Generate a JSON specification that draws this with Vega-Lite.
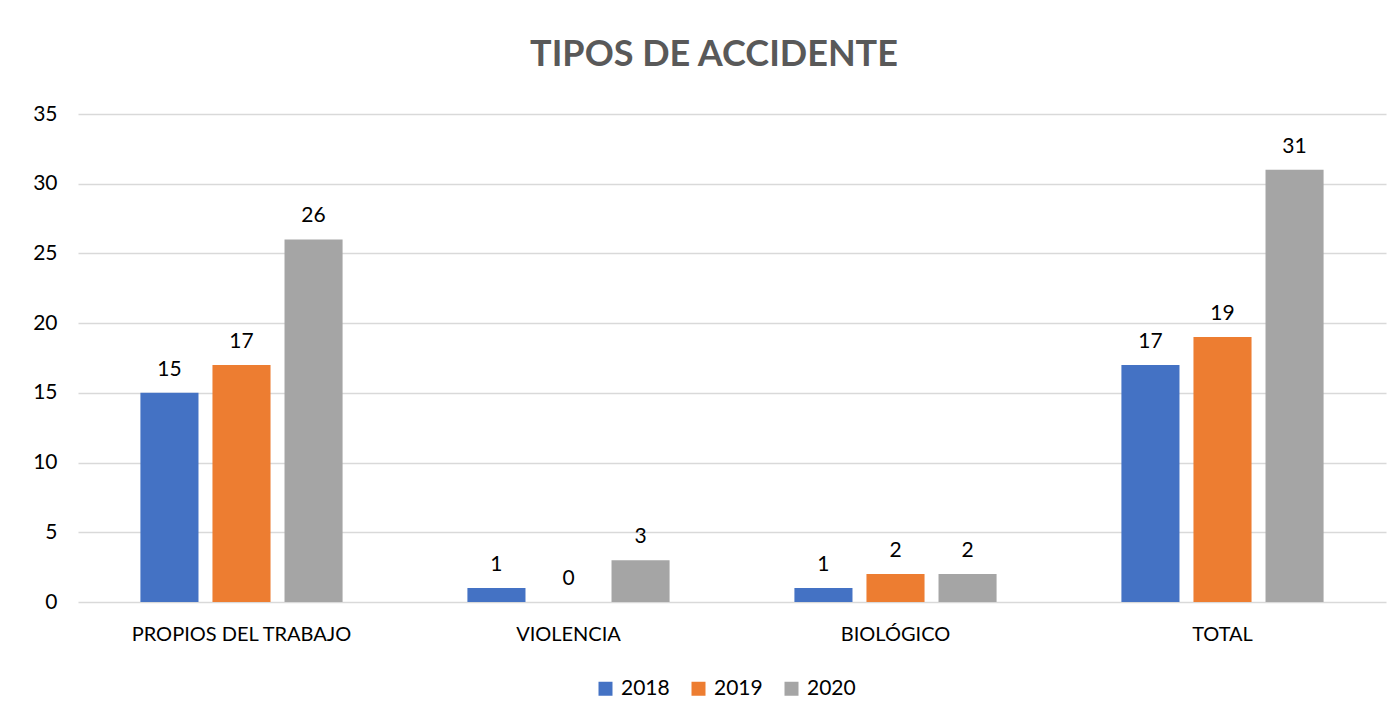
{
  "$schema": "https://vega.github.io/schema/vega-lite/v6.json",
  "width": 1308,
  "height": 488,
  "autosize": "none",
  "padding": {"left": 78, "top": 114, "right": 7, "bottom": 118},
  "background": "white",
  "title": {
    "text": "TIPOS DE ACCIDENTE",
    "font": "Lato",
    "fontSize": 36,
    "fontWeight": "bold",
    "color": "#595959",
    "anchor": "middle",
    "baseline": "alphabetic",
    "offset": 1,
    "dx": -18
  },
  "data": {
    "values": [
      {"tipo": "PROPIOS DEL TRABAJO", "anio": "2018", "valor": 15},
      {"tipo": "PROPIOS DEL TRABAJO", "anio": "2019", "valor": 17},
      {"tipo": "PROPIOS DEL TRABAJO", "anio": "2020", "valor": 26},
      {"tipo": "VIOLENCIA", "anio": "2018", "valor": 1},
      {"tipo": "VIOLENCIA", "anio": "2019", "valor": 0},
      {"tipo": "VIOLENCIA", "anio": "2020", "valor": 3},
      {"tipo": "BIOLÓGICO", "anio": "2018", "valor": 1},
      {"tipo": "BIOLÓGICO", "anio": "2019", "valor": 2},
      {"tipo": "BIOLÓGICO", "anio": "2020", "valor": 2},
      {"tipo": "TOTAL", "anio": "2018", "valor": 17},
      {"tipo": "TOTAL", "anio": "2019", "valor": 19},
      {"tipo": "TOTAL", "anio": "2020", "valor": 31}
    ]
  },
  "encoding": {
    "x": {
      "field": "tipo",
      "type": "nominal",
      "sort": null,
      "scale": {"paddingInner": 0.339, "paddingOuter": 0.1695},
      "axis": {
        "title": null,
        "labelAngle": 0,
        "labelFont": "Lato",
        "labelFontSize": 20,
        "labelColor": "#000000",
        "labelPadding": 22,
        "labelLimit": 0,
        "ticks": false,
        "domain": false
      }
    },
    "xOffset": {
      "field": "anio",
      "type": "nominal",
      "scale": {"paddingInner": 0.194, "paddingOuter": 0.097}
    },
    "y": {
      "field": "valor",
      "type": "quantitative",
      "scale": {"domain": [0, 35], "nice": false},
      "axis": {
        "title": null,
        "values": [0, 5, 10, 15, 20, 25, 30, 35],
        "labelFont": "Lato",
        "labelFontSize": 21,
        "labelColor": "#000000",
        "labelPadding": 21,
        "ticks": false,
        "domain": false,
        "gridColor": "#d9d9d9",
        "gridWidth": 1.5
      }
    }
  },
  "layer": [
    {
      "mark": {"type": "bar"},
      "encoding": {
        "color": {
          "field": "anio",
          "type": "nominal",
          "scale": {"domain": ["2018", "2019", "2020"], "range": ["#4472C4", "#ED7D31", "#A5A5A5"]},
          "legend": {
            "title": null,
            "orient": "none",
            "direction": "horizontal",
            "legendX": 517,
            "legendY": 564,
            "padding": 0,
            "symbolType": "square",
            "symbolSize": 196,
            "symbolStrokeWidth": 0,
            "labelFont": "Lato",
            "labelFontSize": 21,
            "labelColor": "#000000",
            "labelOffset": 5,
            "columnPadding": 18
          }
        }
      }
    },
    {
      "mark": {
        "type": "text",
        "baseline": "alphabetic",
        "dy": -17,
        "font": "Lato",
        "fontSize": 21,
        "color": "#000000"
      },
      "encoding": {
        "text": {"field": "valor", "type": "quantitative"}
      }
    }
  ],
  "config": {
    "view": {"stroke": null}
  }
}
